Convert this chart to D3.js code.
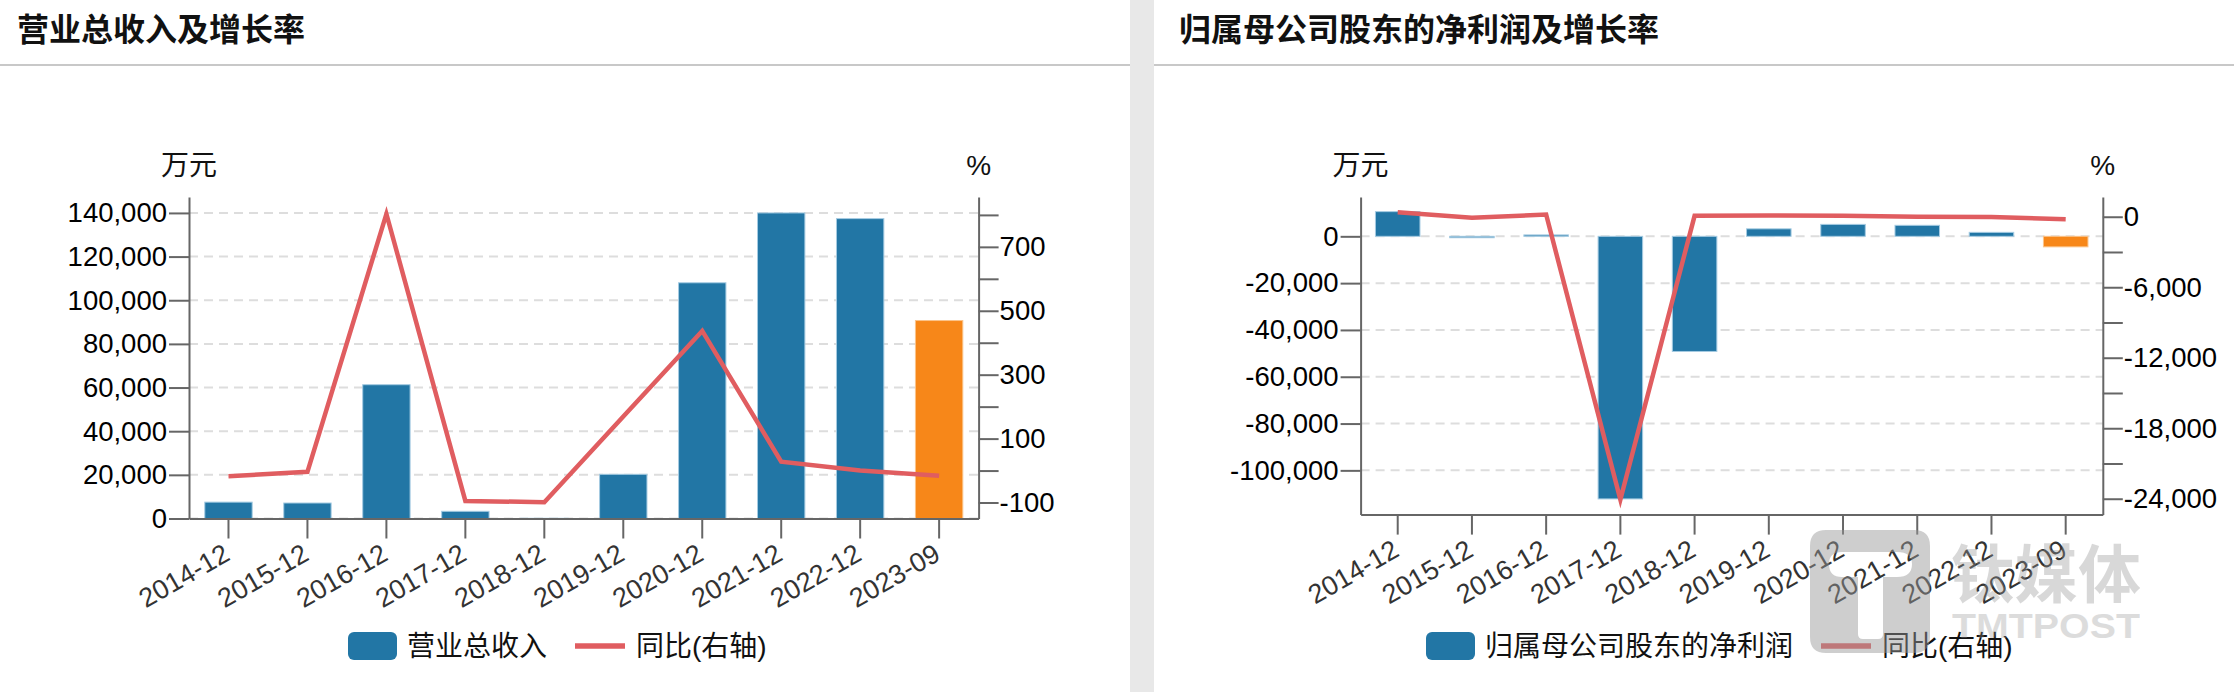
<!DOCTYPE html>
<html>
<head>
<meta charset="utf-8">
<script src="https://cdn.jsdelivr.net/npm/d3@7"></script>
<style>
body { margin: 0; background: #fff; }
text { font-family: "Liberation Sans", "Noto Sans CJK SC", sans-serif; }
</style>
</head>
<body>
<svg id="page" width="2234" height="692"></svg>
<script>
const periods = ['2014-12', '2015-12', '2016-12', '2017-12', '2018-12', '2019-12', '2020-12', '2021-12', '2022-12', '2023-09'];

const revenue = [7500, 7100, 61300, 3300, 100, 20250, 108000, 140000, 137400, 90700];
const revenueGrowth = [-18, -4, 803, -95, -99, 169, 437, 28, 0, -16];
const revenueTicks = [0, 20000, 40000, 60000, 80000, 100000, 120000, 140000];
const revenueGrowthTicks = [-100, 0, 100, 200, 300, 400, 500, 600, 700, 800];
const revenueGrowthLabels = [-100, 100, 300, 500, 700];

const profit = [10550, -600, 600, -112200, -49200, 3200, 5100, 4700, 1700, -4500];
const profitGrowth = [375, -76, 187, -24080, 77, 110, 77, 0, -20, -221];
const profitTicks = [0, -20000, -40000, -60000, -80000, -100000];
const profitGrowthTicks = [0, -3000, -6000, -9000, -12000, -15000, -18000, -21000, -24000];
const profitGrowthLabels = [0, -6000, -12000, -18000, -24000];

const BLUE = '#2276a5', ORANGE = '#f78719', RED = '#e05d60', AXIS = '#666';

const svg = d3.select('#page');

// the source uses a plain hyphen for negatives, d3 defaults to a real minus
const fmt = d3.formatLocale({ decimal: '.', thousands: ',', grouping: [3], currency: ['', ''], minus: '-' }).format(',');

// grey gutter and header rules
svg.append('rect').attr('x', 1130).attr('y', 0).attr('width', 24).attr('height', 692).attr('fill', '#e8e8e8');
svg.append('rect').attr('x', 0).attr('y', 64).attr('width', 1130).attr('height', 2).attr('fill', '#c8c8c8');
svg.append('rect').attr('x', 1154).attr('y', 64).attr('width', 1080).attr('height', 2).attr('fill', '#c8c8c8');

function drawPanel(o) {
	const g = svg.append('g');

	g.append('text')
		.text(o.title)
		.attr('x', o.titleX)
		.attr('y', 41)
		.attr('font-size', '32px')
		.attr('font-weight', 'bold')
		.attr('fill', '#111');

	const x = d3.scaleBand().domain(periods).range([o.left, o.right]).paddingInner(0.4).paddingOuter(0.2);
	const y = d3.scaleLinear().domain(o.yDomain).range([o.bottom, o.top]);
	const y2 = d3.scaleLinear().domain(o.y2Domain).range([o.bottom, o.top]);

	// grid
	g.selectAll('.grid')
		.data(o.yTicks)
		.enter()
		.append('line')
		.attr('x1', o.left)
		.attr('x2', o.right)
		.attr('y1', function(d){ return y(d); })
		.attr('y2', function(d){ return y(d); })
		.attr('stroke', '#ddd')
		.attr('stroke-width', 2)
		.attr('stroke-dasharray', '9,6');

	// bars, last one (Q3) is orange
	g.selectAll('.bar')
		.data(o.bars)
		.enter()
		.append('rect')
		.attr('x', function(d, i){ return x(periods[i]); })
		.attr('width', x.bandwidth())
		.attr('y', function(d){ return y(Math.max(d, 0)); })
		.attr('height', function(d){ return Math.abs(y(d) - y(0)); })
		.attr('fill', function(d, i){ return i === periods.length - 1 ? ORANGE : BLUE; })
		.attr('stroke', function(d, i){ return i === periods.length - 1 ? '#fbc48a' : '#a5cbe2'; })
		.attr('stroke-width', 1);

	const lineFun = d3.line()
		.x(function(d, i){ return x(periods[i]) + x.bandwidth() / 2; })
		.y(function(d){ return y2(d); })
		.curve(d3.curveLinear);

	g.append('path')
		.attr('d', lineFun(o.line))
		.attr('stroke', RED)
		.attr('stroke-width', 4.5)
		.attr('fill', 'none');

	// axes
	const left = g.append('g')
		.attr('transform', 'translate(' + o.left + ',0)')
		.call(d3.axisLeft(y).tickValues(o.yTicks).tickSize(20).tickPadding(2).tickSizeOuter(0).tickFormat(fmt));

	const right = g.append('g')
		.attr('transform', 'translate(' + o.right + ',0)')
		.call(d3.axisRight(y2).tickValues(o.y2Ticks).tickSize(20).tickPadding(1).tickSizeOuter(0)
			.tickFormat(function(d){ return o.y2Labels.includes(d) ? fmt(d) : ''; }));

	const bottom = g.append('g')
		.attr('transform', 'translate(0,' + o.bottom + ')')
		.call(d3.axisBottom(x).tickSize(20).tickSizeOuter(0));

	[left, right, bottom].forEach(function(a){
		a.selectAll('path, line').attr('stroke', AXIS).attr('stroke-width', 2);
		a.selectAll('text').attr('font-size', '27.5px').style('font-family', '"Liberation Sans", "Noto Sans CJK SC", sans-serif');
	});
	left.selectAll('text').attr('fill', '#000');
	right.selectAll('text').attr('fill', '#000');

	bottom.selectAll('text')
		.attr('x', 0)
		.attr('y', 0)
		.attr('dy', 0)
		.attr('text-anchor', 'end')
		.attr('transform', 'translate(3,40.5) rotate(-30)')
		.attr('font-size', '27px')
		.attr('fill', '#333');

	// units
	g.append('text').text('万元').attr('x', o.left).attr('y', 175).attr('text-anchor', 'middle').attr('font-size', '28px').attr('fill', '#111');
	g.append('text').text('%').attr('x', o.right).attr('y', 175).attr('text-anchor', 'middle').attr('font-size', '28px').attr('fill', '#111');

	// legend
	g.append('rect')
		.attr('x', o.legendX)
		.attr('y', 632)
		.attr('width', 49)
		.attr('height', 28)
		.attr('rx', 6)
		.attr('fill', BLUE);
	g.append('text').text(o.barName).attr('x', o.legendX + 59).attr('y', 656).attr('font-size', '28px').attr('fill', '#111');
	g.append('line')
		.attr('x1', o.legendLineX)
		.attr('x2', o.legendLineX + 50)
		.attr('y1', 646)
		.attr('y2', 646)
		.attr('stroke', RED)
		.attr('stroke-width', 5.5);
	g.append('text').text('同比(右轴)').attr('x', o.legendLineX + 61).attr('y', 656).attr('font-size', '28px').attr('fill', '#111');
}

drawPanel({
	title: '营业总收入及增长率',
	titleX: 17,
	left: 189, right: 978.6, top: 197, bottom: 518.5,
	yDomain: [0, 147300],
	y2Domain: [-150, 856],
	yTicks: revenueTicks,
	y2Ticks: revenueGrowthTicks,
	y2Labels: revenueGrowthLabels,
	bars: revenue,
	line: revenueGrowth,
	barName: '营业总收入',
	legendX: 348,
	legendLineX: 575
});

drawPanel({
	title: '归属母公司股东的净利润及增长率',
	titleX: 1179,
	left: 1360.6, right: 2102.8, top: 197, bottom: 514.6,
	yDomain: [-118900, 16800],
	y2Domain: [-25350, 1680],
	yTicks: profitTicks,
	y2Ticks: profitGrowthTicks,
	y2Labels: profitGrowthLabels,
	bars: profit,
	line: profitGrowth,
	barName: '归属母公司股东的净利润',
	legendX: 1426,
	legendLineX: 1821
});

// TMTPOST watermark sits on top of the chart
const mark = svg.append('g').attr('fill', 'rgb(150,150,150)');
mark.append('path')
	.attr('fill-rule', 'evenodd')
	.attr('opacity', 0.47)
	.attr('d', 'M1826 530 H1914 Q1930 530 1930 546 V637 Q1930 653 1914 653 H1826 Q1810 653 1810 637 V546 Q1810 530 1826 530 Z' +
		' M1842 552 H1897 Q1912 552 1912 564 Q1912 577 1897 577 H1883 V634 Q1883 639 1878 639 H1863 Q1858 639 1858 634 V577 H1842 Q1829 577 1829 564 Q1829 552 1842 552 Z');
mark.append('text')
	.text('钛媒体')
	.attr('x', 1951)
	.attr('y', 597)
	.attr('font-size', '63px')
	.attr('font-weight', 'bold')
	.attr('opacity', 0.36)
	.attr('textLength', 190);
mark.append('text')
	.text('TMTPOST')
	.attr('x', 1952)
	.attr('y', 638)
	.attr('font-size', '35px')
	.attr('font-weight', 'bold')
	.attr('opacity', 0.32)
	.attr('textLength', 188)
	.attr('lengthAdjust', 'spacingAndGlyphs');
</script>
</body>
</html>
